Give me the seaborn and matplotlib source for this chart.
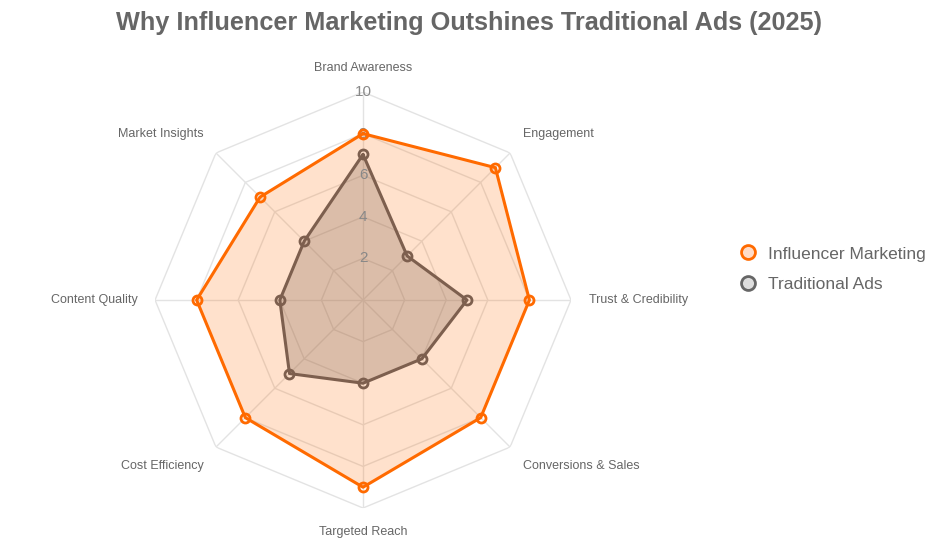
import numpy as np
import seaborn as sns
import matplotlib.pyplot as plt
from matplotlib.lines import Line2D

# data
categories = ["Brand Awareness", "Engagement", "Trust & Credibility", "Conversions & Sales",
              "Targeted Reach", "Cost Efficiency", "Content Quality", "Market Insights"]
influencer = [8, 9, 8, 8, 9, 8, 8, 7]
traditional = [7, 3, 5, 4, 4, 5, 4, 4]
ticks = [2, 4, 6, 8, 10]

sns.set_theme(style="white")
plt.rcParams['font.family'] = ['Liberation Sans', 'DejaVu Sans']

orange = "#FF6A00"
brown = "#7D5F4E"
grid_c = "#E3E3E3"
txt = "#666666"

fig = plt.figure(figsize=(9.39, 5.42), dpi=100)
ax = fig.add_axes([0.1651, 0.0627, 0.443, 0.7675], projection="polar")
ax.set_theta_offset(np.pi / 2)
ax.set_theta_direction(-1)
ax.set_ylim(0, 10)
ax.grid(False)
ax.spines["polar"].set_visible(False)
ax.set_xticks([])
ax.set_yticks([])
ax.set_facecolor("none")

n = len(categories)
ang = np.linspace(0, 2 * np.pi, n, endpoint=False)
ang_c = np.append(ang, ang[0])

# polygon grid
for t in ticks:
    ax.plot(ang_c, [t] * (n + 1), color=grid_c, lw=1, zorder=1)
for a in ang:
    ax.plot([a, a], [0, 10], color=grid_c, lw=1, zorder=1)

def close(v):
    return list(v) + [v[0]]

ax.fill(ang_c, close(influencer), color=orange, alpha=0.2, lw=0, zorder=2)
ax.plot(ang_c, close(influencer), color=orange, lw=2.2, zorder=4)
ax.plot(ang, influencer, "o", ms=6.5, mfc="none", mec=orange, mew=2, zorder=5)

ax.fill(ang_c, close(traditional), color=brown, alpha=0.27, lw=0, zorder=3)
ax.plot(ang_c, close(traditional), color=brown, lw=2.2, zorder=4)
ax.plot(ang, traditional, "o", ms=6.5, mfc="none", mec=brown, mew=2, zorder=5)

# tick labels on top axis
for t in ticks:
    ax.text(0, t, str(t), ha="center", va="center", fontsize=11, color="#888888", zorder=3)

# category labels
for a, c in zip(ang, categories):
    s, co = np.sin(a), np.cos(a)
    ha = "center" if abs(s) < 0.1 else ("left" if s > 0 else "right")
    va = "center" if abs(co) < 0.1 else ("bottom" if co > 0 else "top")
    ax.text(a, 10.85, c, ha=ha, va=va, fontsize=9, color=txt)

fig.suptitle("Why Influencer Marketing Outshines Traditional Ads (2025)",
             x=0.5, y=0.98, fontsize=18.2, fontweight="bold", color=txt)

handles = [
    Line2D([], [], ls="none", marker="o", ms=10, mfc="#FFDCC8", mec=orange, mew=2),
    Line2D([], [], ls="none", marker="o", ms=10, mfc="#DDDDDD", mec="#666666", mew=2),
]
fig.legend(handles, ["Influencer Marketing", "Traditional Ads"], loc="center left",
           bbox_to_anchor=(0.769, 0.503), frameon=False, fontsize=12.5,
           labelcolor=txt, handletextpad=0.55, labelspacing=0.9, handlelength=1.2)

fig.savefig("out.png", dpi=100)
